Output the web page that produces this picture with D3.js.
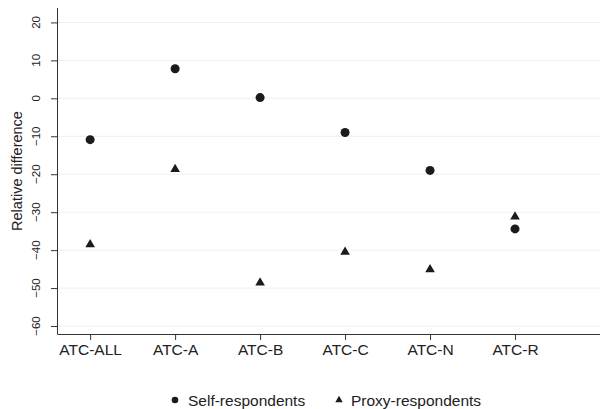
<!DOCTYPE html>
<html>
<head>
<meta charset="utf-8">
<script src="https://cdn.jsdelivr.net/npm/d3@7"></script>
<style>
  body { margin: 0; background: #fff; }
  svg { display: block; font-family: "Liberation Sans", Arial, sans-serif; }
</style>
</head>
<body>
<div id="chart"></div>
<script>
// chart data
const categories = ["ATC-ALL", "ATC-A", "ATC-B", "ATC-C", "ATC-N", "ATC-R"];
const selfValues = [-10.9, 7.8, 0.2, -9.0, -19.0, -34.4];
const proxyValues = [-38.5, -18.7, -48.6, -40.5, -45.1, -31.2];
const yTicks = [20, 10, 0, -10, -20, -30, -40, -50, -60];

const width = 600, height = 409;
const margin = { left: 57, right: 0, top: 8, bottom: 75 };

const svg = d3.select("#chart").append("svg")
    .attr("width", width)
    .attr("height", height);

// scales
const x = d3.scaleLinear()
    .domain([-0.39, 6.0])
    .range([margin.left, width - margin.right]);
const y = d3.scaleLinear()
    .domain([-62.1, 23.8])
    .range([height - margin.bottom, margin.top]);

// gridlines
svg.append("g")
    .selectAll("line")
    .data(yTicks)
    .enter()
    .append("line")
    .attr("x1", margin.left)
    .attr("x2", width)
    .attr("y1", d => y(d))
    .attr("y2", d => y(d))
    .attr("stroke", "#efefef")
    .attr("stroke-width", 1);

// y axis
const yAxis = svg.append("g")
    .attr("transform", `translate(${margin.left},0)`)
    .call(d3.axisLeft(y).tickValues(yTicks).tickSize(6).tickSizeOuter(0));
yAxis.select(".domain").attr("stroke", "#333").attr("d", `M0.5,${margin.top}V${y(-62.1)}`);
yAxis.selectAll(".tick").attr("transform", null);
yAxis.selectAll(".tick line")
    .attr("stroke", "#333")
    .attr("y1", d => y(d) + 0.5)
    .attr("y2", d => y(d) + 0.5);
// rotated tick labels, as in the original
yAxis.selectAll(".tick text")
    .attr("font-size", 11.5)
    .attr("fill", "#222")
    .attr("text-anchor", "middle")
    .attr("x", 0)
    .attr("y", 0)
    .attr("dy", 0)
    .attr("transform", d => `translate(-17,${y(d)}) rotate(-90)`);

// x axis
const xAxis = svg.append("g")
    .attr("transform", `translate(0,${height - margin.bottom})`)
    .call(d3.axisBottom(x).tickValues(d3.range(categories.length))
        .tickFormat(i => categories[i]).tickSize(6).tickPadding(4).tickSizeOuter(0));
xAxis.select(".domain").attr("stroke", "#333").attr("stroke-width", 1.2);
xAxis.selectAll(".tick line").attr("stroke", "#333");
xAxis.selectAll(".tick text").attr("font-size", 15.5).attr("fill", "#222");

// y axis title
svg.append("text")
    .attr("transform", `translate(22,${(margin.top + height - margin.bottom) / 2}) rotate(-90)`)
    .attr("text-anchor", "middle")
    .attr("font-size", 14.5)
    .attr("fill", "#222")
    .text("Relative difference");

// points
const markColor = "#1b1a1c";
svg.append("g")
    .selectAll("circle")
    .data(selfValues)
    .enter()
    .append("circle")
    .attr("cx", (d, i) => x(i))
    .attr("cy", d => y(d))
    .attr("r", 4.5)
    .attr("fill", markColor);

const tri = d3.symbol().type(d3.symbolTriangle).size(40);
svg.append("g")
    .selectAll("path")
    .data(proxyValues)
    .enter()
    .append("path")
    .attr("d", tri)
    .attr("transform", (d, i) => `translate(${x(i)},${y(d)})`)
    .attr("fill", markColor);

// legend
const legend = svg.append("g");
legend.append("circle")
    .attr("cx", 175).attr("cy", 400).attr("r", 3.3).attr("fill", markColor);
legend.append("text")
    .attr("x", 188).attr("y", 405.5)
    .attr("font-size", 15.5).attr("fill", "#222")
    .text("Self-respondents");
legend.append("path")
    .attr("d", d3.symbol().type(d3.symbolTriangle).size(24))
    .attr("transform", "translate(339,400)")
    .attr("fill", markColor);
legend.append("text")
    .attr("x", 351).attr("y", 405.5)
    .attr("font-size", 15.5).attr("fill", "#222")
    .text("Proxy-respondents");
</script>
</body>
</html>
